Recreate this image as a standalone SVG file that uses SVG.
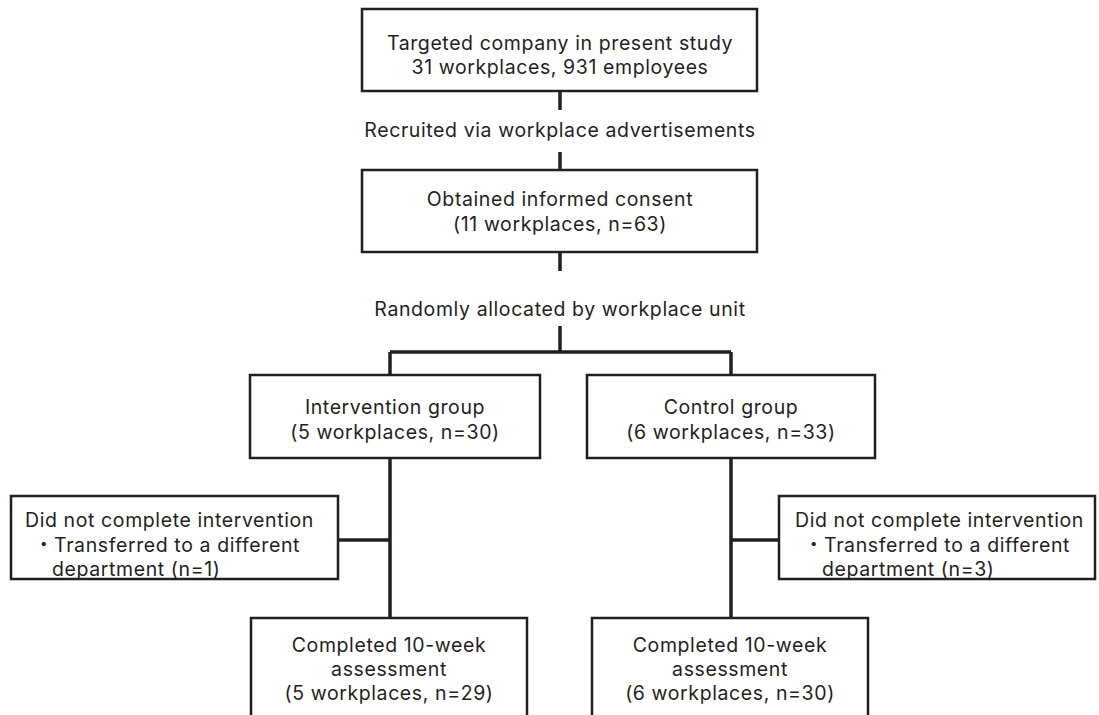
<svg xmlns="http://www.w3.org/2000/svg" width="1099" height="715" viewBox="0 0 1099 715">
<style>
.box{fill:#fff;stroke:#231f20;stroke-width:2.5}
.ln{fill:none;stroke:#231f20;stroke-width:3.5}
text{font-family:Inter,"Noto Sans CJK JP",sans-serif;font-size:19.5px;letter-spacing:0.6px;fill:#231f20}
.c{text-anchor:middle}
</style>
<rect width="1099" height="715" fill="#fff"/>
<g id="connectors">
<path class="ln" d="M560 91V110M560 152V170M560 252V271M560 326V352M390 352H731M390 352V375M731 352V375M390 458V618M731 458V618M338 540H390M731 540H779"/>
</g>
<g id="top"><rect class="box" x="362" y="9" width="395" height="82"/>
<text class="c" x="560" y="50">Targeted company in present study</text>
<text class="c" x="560" y="74">31 workplaces, 931 employees</text></g>
<g id="label1"><text class="c" x="560" y="137">Recruited via workplace advertisements</text></g>
<g id="consent"><rect class="box" x="362" y="170" width="395" height="82"/>
<text class="c" x="560" y="206">Obtained informed consent</text>
<text class="c" x="560" y="231">(11 workplaces, n=63)</text></g>
<g id="label2"><text class="c" x="560" y="316">Randomly allocated by workplace unit</text></g>
<g id="intervention"><rect class="box" x="250" y="375" width="290" height="83"/>
<text class="c" x="395" y="414">Intervention group</text>
<text class="c" x="395" y="439">(5 workplaces, n=30)</text></g>
<g id="control"><rect class="box" x="587" y="375" width="288" height="83"/>
<text class="c" x="731" y="414">Control group</text>
<text class="c" x="731" y="439">(6 workplaces, n=33)</text></g>
<g id="dropout-left"><rect class="box" x="11" y="496" width="327" height="83"/>
<text x="25" y="527">Did not complete intervention</text>
<text x="34" y="552">・Transferred to a different</text>
<text x="52" y="576">department (n=1)</text></g>
<g id="dropout-right"><rect class="box" x="779" y="496" width="316" height="83"/>
<text x="795" y="527">Did not complete intervention</text>
<text x="804" y="552">・Transferred to a different</text>
<text x="822" y="576">department (n=3)</text></g>
<g id="completed-left"><rect class="box" x="251" y="618" width="276" height="110"/>
<text class="c" x="389" y="652">Completed 10-week</text>
<text class="c" x="389" y="676">assessment</text>
<text class="c" x="389" y="700">(5 workplaces, n=29)</text></g>
<g id="completed-right"><rect class="box" x="592" y="618" width="276" height="110"/>
<text class="c" x="730" y="652">Completed 10-week</text>
<text class="c" x="730" y="676">assessment</text>
<text class="c" x="730" y="700">(6 workplaces, n=30)</text></g>
</svg>
